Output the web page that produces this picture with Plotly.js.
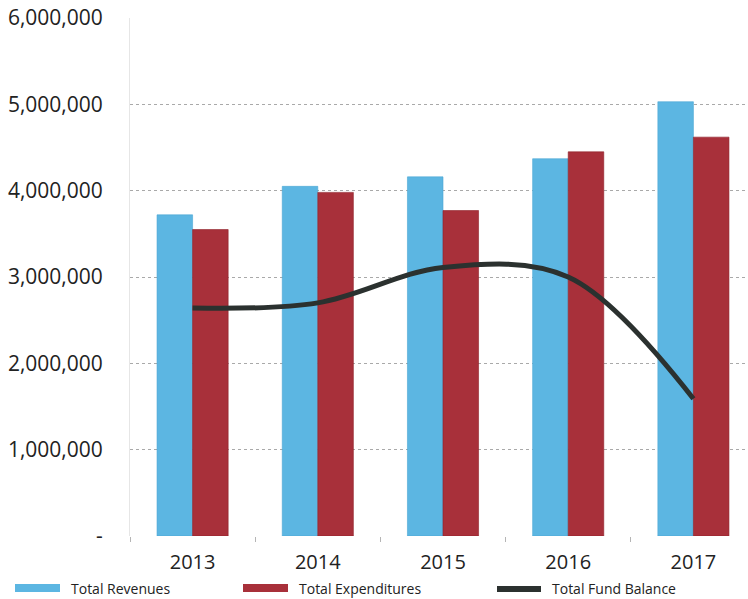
<!DOCTYPE html>
<html>
<head>
<meta charset="utf-8">
<script src="https://cdn.plot.ly/plotly-3.0.1.min.js"></script>
<style>
  html, body { margin: 0; padding: 0; background: #ffffff; }
  #chart { width: 748px; height: 599px; }
</style>
</head>
<body>
<div id="chart"></div>
<script>
// ---- Data ----
const years = ['2013', '2014', '2015', '2016', '2017'];
const totalRevenues = [3720000, 4050000, 4160000, 4370000, 5030000];
const totalExpenditures = [3550000, 3980000, 3770000, 4450000, 4620000];
const totalFundBalance = [2640000, 2700000, 3110000, 3000000, 1590000];
const yTickValues = [0, 1000000, 2000000, 3000000, 4000000, 5000000, 6000000];
const yTickLabels = ['-', '1,000,000', '2,000,000', '3,000,000', '4,000,000', '5,000,000', '6,000,000'];
const seriesNames = ['Total Revenues', 'Total Expenditures', 'Total Fund Balance'];

// ---- Styling ----
const W = 748, H = 599;
const M = { l: 130, r: 0, t: 18, b: 63 };
const blue = '#5cb6e2';
const red = '#a8303a';
const dark = '#2b312f';
const FONT = '"Open Sans", "Noto Sans", sans-serif';

// pixel -> paper helpers for the custom legend
const plotW = W - M.l - M.r, plotH = H - M.t - M.b;
const px = x => (x - M.l) / plotW;
const py = y => (H - M.b - y) / plotH;

const traces = [
  {
    type: 'bar', name: seriesNames[0], x: years, y: totalRevenues,
    marker: { color: blue, line: { color: '#4aa6d4', width: 0.6 } },
    showlegend: false, hoverinfo: 'x+y'
  },
  {
    type: 'bar', name: seriesNames[1], x: years, y: totalExpenditures,
    marker: { color: red, line: { color: '#8e2029', width: 0.6 } },
    showlegend: false, hoverinfo: 'x+y'
  },
  {
    type: 'scatter', mode: 'lines', name: seriesNames[2], x: years, y: totalFundBalance,
    line: { color: dark, width: 5, shape: 'spline', smoothing: 1 },
    showlegend: false, hoverinfo: 'x+y'
  }
];

// custom legend (wide swatches as in the reference)
const legendY = 588;
const legendFont = { family: FONT, size: 14, color: '#222' };
const shapes = [
  { type: 'rect', xref: 'paper', yref: 'paper', x0: px(15), x1: px(60), y0: py(592), y1: py(584),
    fillcolor: blue, line: { width: 0 } },
  { type: 'rect', xref: 'paper', yref: 'paper', x0: px(243), x1: px(288), y0: py(592), y1: py(584),
    fillcolor: red, line: { width: 0 } },
  { type: 'line', xref: 'paper', yref: 'paper', x0: px(497), x1: px(541), y0: py(589), y1: py(589),
    line: { color: dark, width: 6 } }
];
const annotations = [
  { xref: 'paper', yref: 'paper', x: px(69), y: py(legendY), xanchor: 'left', yanchor: 'middle',
    text: seriesNames[0], showarrow: false, font: legendFont },
  { xref: 'paper', yref: 'paper', x: px(297), y: py(legendY), xanchor: 'left', yanchor: 'middle',
    text: seriesNames[1], showarrow: false, font: legendFont },
  { xref: 'paper', yref: 'paper', x: px(550), y: py(legendY), xanchor: 'left', yanchor: 'middle',
    text: seriesNames[2], showarrow: false, font: legendFont }
];

const layout = {
  width: W, height: H,
  margin: M,
  paper_bgcolor: '#ffffff',
  plot_bgcolor: '#ffffff',
  barmode: 'group',
  bargap: 0.432,
  bargroupgap: 0,
  showlegend: false,
  font: { family: FONT, color: '#222' },
  xaxis: {
    type: 'category',
    range: [-0.5, 4.436],
    showgrid: false,
    zeroline: false,
    showline: false,
    ticks: 'outside',
    tickson: 'boundaries',
    ticklen: 5,
    tickcolor: '#b5b5b5',
    tickfont: { family: FONT, size: 20, color: '#222' },
    ticklabelstandoff: 12
  },
  yaxis: {
    range: [0, 6000000],
    tickvals: yTickValues,
    ticktext: yTickLabels,
    tickfont: { family: FONT, size: 21, color: '#222' },
    showgrid: true,
    gridcolor: '#a9a9a9',
    griddash: 'dot',
    gridwidth: 1,
    zeroline: false,
    showline: true,
    linecolor: '#e6e6e6',
    linewidth: 1,
    ticks: '',
    ticklabelstandoff: 22
  },
  shapes: shapes,
  annotations: annotations
};

Plotly.newPlot('chart', traces, layout, { displayModeBar: false, staticPlot: true });
</script>
</body>
</html>
